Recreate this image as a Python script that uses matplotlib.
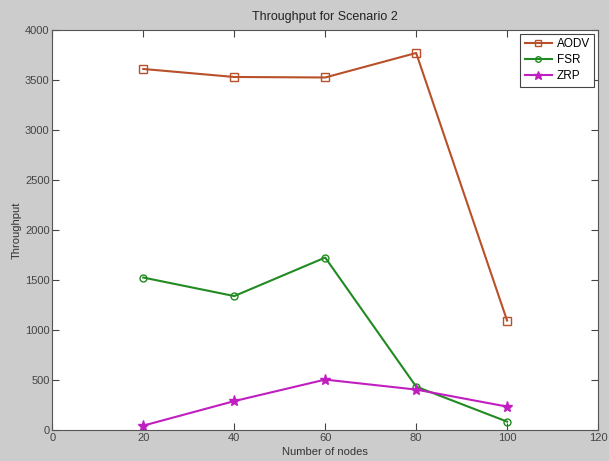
import numpy as np
import matplotlib
matplotlib.use('Agg')
import matplotlib.pyplot as plt

plt.rcParams['font.family'] = ['Liberation Sans', 'DejaVu Sans']
narrow = ['Liberation Sans Narrow', 'Liberation Sans', 'DejaVu Sans']

nodes = [20, 40, 60, 80, 100]
aodv = [3610, 3530, 3525, 3770, 1095]
fsr = [1525, 1340, 1725, 435, 85]
zrp = [45, 290, 505, 405, 235]

xticks = [0, 20, 40, 60, 80, 100, 120]
yticks = [0, 500, 1000, 1500, 2000, 2500, 3000, 3500, 4000]

fig = plt.figure(figsize=(6.09, 4.61), dpi=100, facecolor='#cccccc')
ax = fig.add_axes([0.086, 0.067, 0.896, 0.868])
ax.set_facecolor('white')

ax.plot(nodes, aodv, '-s', color='#b8502a', mfc='none', ms=6, lw=1.5, label='AODV')
ax.plot(nodes, fsr, '-o', color='#218a21', mfc='none', ms=5, lw=1.5, label='FSR')
ax.plot(nodes, zrp, '-*', color='#c01ec0', ms=8, lw=1.5, label='ZRP')

ax.set_xlim(0, 120)
ax.set_ylim(0, 4000)
ax.set_xticks(xticks)
ax.set_yticks(yticks)
ax.tick_params(direction='in', top=True, right=True, labelsize=8,
               colors='#444444', length=5, pad=2)
for lab in ax.get_xticklabels() + ax.get_yticklabels():
    lab.set_family(narrow)
for s in ax.spines.values():
    s.set_color('#555555')

ax.set_title('Throughput for Scenario 2', fontsize=9, color='#222222', pad=7)
ax.set_xlabel('Number of nodes', fontsize=8, color='#333333', labelpad=3)
ax.set_ylabel('Throughput', fontsize=8, color='#333333')
ax.yaxis.set_label_coords(-0.056, 0.5)

leg = ax.legend(loc='upper right', fancybox=False, framealpha=1,
                prop={'family': narrow, 'size': 8.5},
                edgecolor='#444444', handlelength=2.3, handletextpad=0.4,
                borderaxespad=0.3, markerscale=0.8, labelspacing=0.35,
                borderpad=0.4)
leg.get_frame().set_linewidth(0.8)

fig.savefig('out.png', dpi=100, facecolor=fig.get_facecolor())
